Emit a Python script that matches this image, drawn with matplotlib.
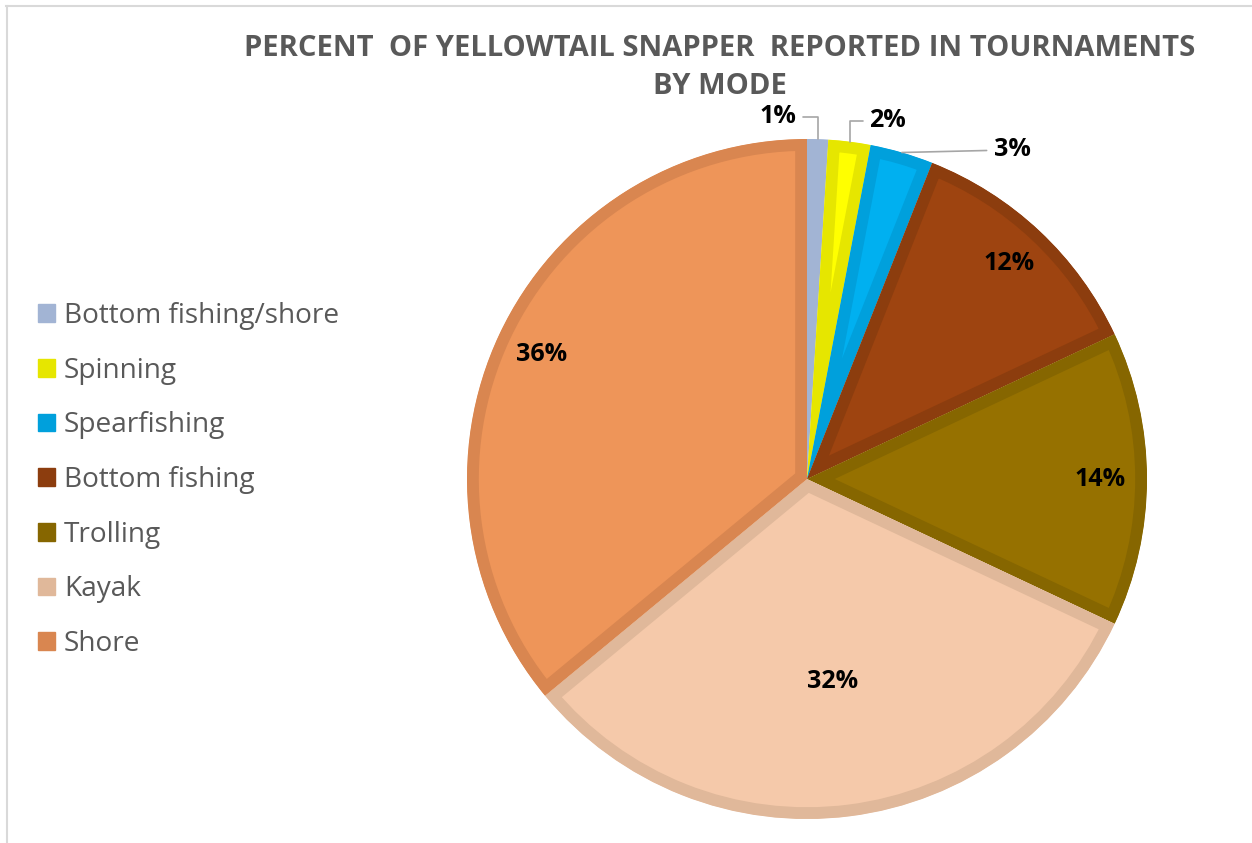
import numpy as np
import matplotlib.pyplot as plt
from matplotlib.patches import Patch
from matplotlib.lines import Line2D

plt.rcParams['font.family'] = ['Open Sans', 'DejaVu Sans']

modes = ["Bottom fishing/shore", "Spinning", "Spearfishing", "Bottom fishing",
         "Trolling", "Kayak", "Shore"]
percents = [1, 2, 3, 12, 14, 32, 36]
fill_colors = ["#B4C7E7", "#FFFF00", "#00B0F0", "#9E4410", "#967100", "#F5C9AA", "#EE9559"]
edge_colors = ["#A2B4D4", "#E6E600", "#00A0DC", "#8C3D0E", "#866600", "#E0B89A", "#D98650"]

W, H = 1252, 843
fig = plt.figure(figsize=(W / 100, H / 100), dpi=100)

# pie centre and radius in pixels
cx, cy, R = 807, 479, 340
ax = fig.add_axes([(cx - R) / W, (H - cy - R) / H, 2 * R / W, 2 * R / H])

wedges, _ = ax.pie(percents, colors=fill_colors, startangle=90, counterclock=False,
                   radius=1.0, wedgeprops=dict(linewidth=17))
# stroke each slice with a darker shade, kept inside the slice
for w, ec in zip(wedges, edge_colors):
    w.set_edgecolor(ec)
    w.set_joinstyle('miter')
    w.set_clip_path(w)
    w.set_clip_on(True)

ax.set_xlim(-1, 1)
ax.set_ylim(-1, 1)
ax.set_aspect('equal')
ax.axis('off')

# mid angle of each slice, measured clockwise from 12 o'clock
cum = np.cumsum(percents) - np.array(percents) / 2
mid = np.radians(cum / 100 * 360)

label_kw = dict(fontsize=18, fontweight='bold', color='black', ha='center', va='center')
inside_r = {3: 0.87, 4: 0.862, 5: 0.6, 6: 0.862}
for i, r in inside_r.items():
    ax.text(r * np.sin(mid[i]), r * np.cos(mid[i]), f"{percents[i]}%", **label_kw)

# small slices get labels outside with leader lines
outside = {0: ((-0.085, 1.065), 'angle,angleA=0,angleB=90'),
           1: ((0.238, 1.053), 'angle,angleA=0,angleB=90'),
           2: ((0.603, 0.968), 'arc3,rad=0')}
for i, (pos, cs) in outside.items():
    anchor = (np.sin(mid[i]), np.cos(mid[i]))
    ax.annotate(f"{percents[i]}%", xy=anchor, xytext=pos, **label_kw,
                arrowprops=dict(arrowstyle='-', color='#A6A6A6', lw=1.2,
                                connectionstyle=cs, shrinkA=3, shrinkB=0))

title_kw = dict(ha='center', va='center', fontsize=21, fontweight='bold', color='#595959')
fig.text(720 / W, 1 - 48 / H, "PERCENT  OF YELLOWTAIL SNAPPER  REPORTED IN TOURNAMENTS", **title_kw)
fig.text(720 / W, 1 - 87 / H, "BY MODE", **title_kw)

handles = [Patch(facecolor=c, edgecolor=c) for c in edge_colors]
fig.legend(handles, modes, loc='center left', bbox_to_anchor=(38 / W, 1 - 480 / H),
           frameon=False, fontsize=20.2, labelcolor='#595959', handlelength=0.6,
           handleheight=0.6, handletextpad=0.32, labelspacing=0.95,
           borderpad=0, borderaxespad=0)

# chart-area border, top and left edges
fig.add_artist(Line2D([6 / W, 1], [1 - 6 / H, 1 - 6 / H], transform=fig.transFigure,
                      color='#D9D9D9', lw=1.5))
fig.add_artist(Line2D([7 / W, 7 / W], [0, 1 - 6 / H], transform=fig.transFigure,
                      color='#D9D9D9', lw=1.5))

fig.savefig("out.png", dpi=100, facecolor='white')
